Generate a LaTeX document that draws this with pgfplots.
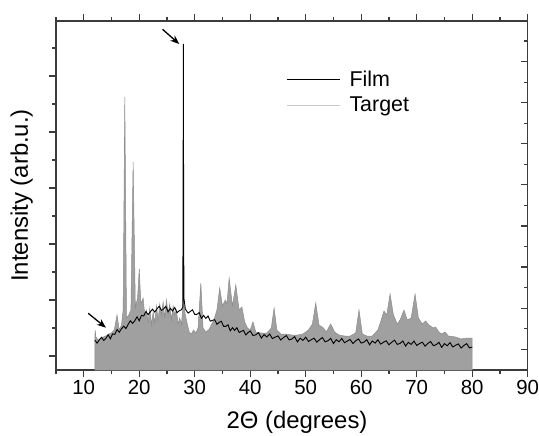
\documentclass[border=0pt]{standalone}
\usepackage{fontspec}
\setmainfont{Liberation Sans}
\usepackage{pgfplots}
\pgfplotsset{compat=1.18}
\usetikzlibrary{arrows.meta}
\definecolor{fillgray}{RGB}{160,160,160}
\definecolor{edgegray}{RGB}{140,140,140}
\definecolor{leggray}{RGB}{200,200,200}
\definecolor{axgray}{RGB}{60,60,60}
\pgfplotstableread{
x y
12.0 30
12.05 40
12.2 33
12.6 30
13.0 31
13.5 33
14.0 34
14.5 36
15.0 37
15.5 40
16.0 55
16.4 40
16.8 45
17.1 60
17.4 273
17.7 52
18.1 55
18.5 60
18.9 208
19.3 62
19.7 72
20.0 101
20.3 66
20.7 72
21.0 55
21.3 60
21.6 48
21.9 62
22.2 45
22.5 58
22.8 47
23.1 64
23.4 50
23.7 66
24.0 55
24.3 68
24.6 52
24.9 70
25.2 56
25.5 66
25.8 50
26.1 64
26.4 55
26.7 60
27.0 46
27.3 52
27.6 45
27.95 70
28.3 55
28.7 45
29.0 38
29.4 36
29.8 40
30.2 37
30.6 42
31.1 87
31.5 42
32.0 38
32.5 40
33.0 45
33.5 51
34.0 60
34.5 82
35.0 64
35.5 70
35.8 66
36.2 92
36.8 64
37.4 85
38.0 60
38.5 63
39.0 48
39.5 42
40.0 40
40.5 48
41.0 38
42.0 37
43.0 37
43.8 42
44.3 62
44.8 40
45.5 36
46.5 36
47.5 35
48.5 35
49.5 36
50.5 40
51.2 46
51.8 67
52.4 45
53.2 42
53.7 38
54.5 46
55.2 38
56.0 35
57.0 34
58.0 34
59.0 37
59.6 60
60.2 36
61.0 34
62.0 34
63.0 40
63.6 50
64.1 59
64.6 55
65.2 76
65.8 55
66.5 46
67.0 50
67.7 60
68.3 50
69.0 52
69.7 76
70.3 52
71.0 46
71.6 49
72.2 45
73.0 42
73.4 43
74.0 38
74.5 36
75.1 38
75.7 34
77.0 33
78.0 31
79.0 32
80.0 32
}\target
\pgfplotstableread{
x y
12.0 29.8
12.4 26.9
12.8 30.1
13.2 32.7
13.6 29.6
14.0 31.7
14.4 35.2
14.8 31.2
15.2 36.1
15.6 35.6
16.0 40.5
16.4 37.8
16.8 41.2
17.2 43.8
17.6 41.4
18.0 45.6
18.4 49.2
18.8 46.6
19.2 49.2
19.6 53.2
20.0 49.2
20.4 54.6
20.8 54.1
21.2 58.5
21.6 55.3
22.0 58.2
22.4 60.8
22.8 57.9
23.2 61.1
23.6 63.7
24.0 59.6
24.4 61.2
24.8 63.7
25.2 58.2
25.6 61.6
26.0 59.1
26.4 62.5
26.8 57.3
27.2 59.2
27.6 60.3
27.85 63
27.9 160
27.95 326
28.0 150
28.05 72
28.3 61
28.8 56.9
29.2 58.6
29.6 60.2
30.0 55.6
30.4 55.7
30.8 57.4
31.2 51.7
31.6 54.6
32.0 51.6
32.4 54.0
32.8 48.8
33.2 49.7
33.6 50.3
34.0 45.7
34.4 47.6
34.8 48.7
35.2 43.6
35.6 43.7
36.0 45.2
36.4 39.2
36.8 42.3
37.2 39.6
37.6 42.3
38.0 37.5
38.4 38.7
38.8 39.6
39.2 35.1
39.6 37.4
40.0 39.0
40.5 34.5
41.0 35.2
41.5 37.3
42.0 31.9
42.5 35.4
43.0 33.0
43.5 36.0
44.0 31.4
44.5 32.9
45.0 34.1
45.5 30.0
46.0 32.5
46.5 34.4
47.0 30.1
47.5 31.0
48.0 33.3
48.5 28.1
49.0 31.8
49.5 29.6
50.0 32.8
50.5 28.5
51.0 30.3
51.5 31.8
52.0 27.8
52.5 30.4
53.0 32.4
53.5 28.2
54.0 29.2
54.5 31.6
55.0 26.5
55.5 30.3
56.0 28.2
56.5 31.5
57.0 27.2
57.5 29.0
58.0 30.5
58.5 26.5
59.0 29.1
59.5 31.1
60.0 26.9
60.5 27.9
61.0 30.3
61.5 25.2
62.0 29.0
62.5 26.9
63.0 30.2
63.5 25.9
64.0 27.7
64.5 29.2
65.0 25.2
65.5 27.8
66.0 29.8
66.5 25.6
67.0 26.6
67.5 29.0
68.0 23.9
68.5 27.7
69.0 25.6
69.5 28.9
70.0 24.6
70.5 26.4
71.0 27.9
71.5 23.9
72.0 26.5
72.5 28.5
73.0 24.3
73.5 25.3
74.0 27.7
74.5 22.6
75.0 26.4
75.5 24.2
76.0 27.4
76.5 23.0
77.0 24.7
77.5 26.1
78.0 22.0
78.5 24.5
79.0 26.4
79.5 22.1
80.0 23.0
}\film
\begin{document}
\begin{tikzpicture}
\begin{axis}[
  at={(0,0)}, anchor=south west,
  scale only axis, width=471.7bp, height=349bp,
  xmin=5, xmax=90, ymin=0, ymax=349,
  xtick={10,20,...,90}, minor xtick={5,15,...,85},
  ytick={14,70,126,182,238,294}, minor ytick={42,98,154,210,266,322},
  yticklabels={}, ytick pos=left,
  tick align=outside,
  major tick length=7bp, minor tick length=4bp,
  axis line style={axgray, line width=1.2bp},
  every tick/.style={axgray, line width=1.2bp},
  tick label style={font=\fontsize{20.5}{24}\selectfont},
  /pgf/number format/assume math mode=true,
  xlabel={2Θ (degrees)}, ylabel={Intensity (arb.u.)},
  label style={font=\fontsize{24}{28}\selectfont},
  xlabel style={at={(axis description cs:0.511,-0.1175)}, anchor=north, inner sep=0pt},
  ylabel style={at={(axis description cs:-0.0488,0.5)}, anchor=south, inner sep=0pt},
  legend style={at={(axis description cs:0.4815,0.868)}, anchor=north west, draw=none, fill=none,
    font=\fontsize{21.5}{25}\selectfont, row sep=5bp},
  legend cell align=left,
  legend image code/.code={\draw[#1] (0bp,0bp) -- (53bp,0bp); \path (60bp,0bp);},
]
\addplot[fill=fillgray, draw=edgegray, line width=0.5bp, forget plot] table {\target} \closedcycle;
\addplot[black, line width=0.9bp, forget plot] table {\film};
\addlegendimage{black, line width=0.8bp}
\addlegendentry{Film}
\addlegendimage{leggray, line width=1.2bp}
\addlegendentry{Target}
\draw[-{Stealth[length=9bp,width=7bp]}, line width=1.3bp] (axis cs:24.2,340.7) -- (axis cs:27.2,326);
\draw[-{Stealth[length=9bp,width=7bp]}, line width=1.3bp] (axis cs:10.8,56.7) -- (axis cs:14.0,42.3);
\end{axis}
\begin{axis}[
  at={(0,0)}, anchor=south west,
  scale only axis, width=471.7bp, height=349bp,
  xmin=5, xmax=90, ymin=0, ymax=349,
  hide x axis, axis y line*=right,
  ytick={20.7,61.8,102.9,144,185.1,226.2,267.3,308.4},
  minor ytick={41.25,82.35,123.45,164.55,205.65,246.75,287.85,328.95},
  yticklabels={}, ytick align=inside,
  major tick length=7bp, minor tick length=4bp,
  axis line style={axgray, line width=1.2bp},
  every tick/.style={axgray, line width=1.2bp},
]
\addplot[draw=none, forget plot] coordinates {(5,0)};
\end{axis}
\pgfresetboundingbox
\path (-56bp,-66bp) rectangle (483bp,370bp);
\end{tikzpicture}
\end{document}
